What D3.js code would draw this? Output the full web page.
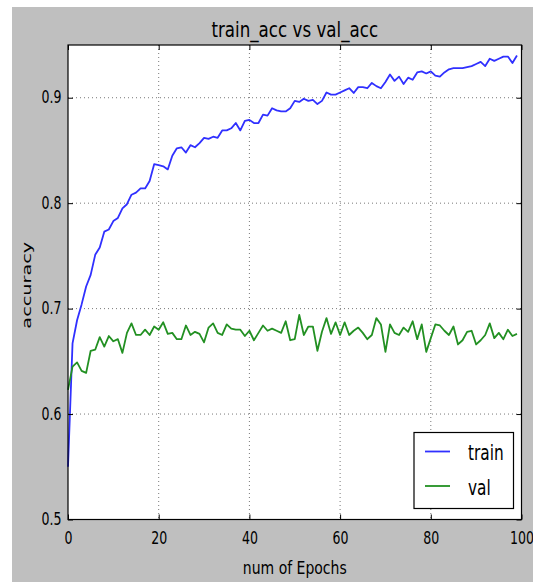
<!DOCTYPE html>
<html>
<head>
<meta charset="utf-8">
<script src="https://cdn.jsdelivr.net/npm/d3@7"></script>
<style>
    body { margin: 0; background: #fff; }
    svg text { font-family: "DejaVu Sans", sans-serif; fill: #000; }
</style>
</head>
<body>
<svg id="chart"></svg>
<script>
const width = 533;
const height = 582;

// epochs 0..99
const epochs = d3.range(0, 100);

const trainAcc = [
    0.550, 0.667, 0.689, 0.704, 0.721, 0.732, 0.751, 0.758, 0.773, 0.775,
    0.783, 0.786, 0.795, 0.799, 0.808, 0.810, 0.814, 0.814, 0.821, 0.837,
    0.836, 0.835, 0.832, 0.845, 0.852, 0.853, 0.848, 0.855, 0.853, 0.857,
    0.862, 0.861, 0.863, 0.862, 0.869, 0.869, 0.871, 0.876, 0.869, 0.878,
    0.879, 0.876, 0.876, 0.884, 0.883, 0.890, 0.888, 0.887, 0.887, 0.890,
    0.897, 0.896, 0.899, 0.897, 0.898, 0.894, 0.897, 0.905, 0.903, 0.903,
    0.905, 0.907, 0.909, 0.9045, 0.910, 0.910, 0.909, 0.914, 0.911, 0.909,
    0.915, 0.922, 0.916, 0.920, 0.913, 0.919, 0.917, 0.924, 0.925, 0.923,
    0.925, 0.921, 0.920, 0.924, 0.927, 0.928, 0.928, 0.928, 0.929, 0.930,
    0.932, 0.934, 0.930, 0.937, 0.935, 0.937, 0.939, 0.939, 0.933, 0.940
];

const valAcc = [
    0.623, 0.645, 0.649, 0.641, 0.639, 0.660, 0.661, 0.673, 0.664, 0.674,
    0.669, 0.671, 0.658, 0.677, 0.686, 0.675, 0.675, 0.680, 0.675, 0.683,
    0.680, 0.687, 0.676, 0.677, 0.671, 0.671, 0.684, 0.675, 0.678, 0.676,
    0.668, 0.682, 0.686, 0.677, 0.675, 0.685, 0.681, 0.680, 0.680, 0.674,
    0.679, 0.670, 0.677, 0.684, 0.679, 0.681, 0.679, 0.677, 0.688, 0.670,
    0.671, 0.694, 0.675, 0.683, 0.683, 0.660, 0.678, 0.691, 0.676, 0.687,
    0.675, 0.687, 0.675, 0.679, 0.682, 0.677, 0.671, 0.675, 0.691, 0.685,
    0.659, 0.685, 0.677, 0.675, 0.682, 0.678, 0.688, 0.671, 0.685, 0.659,
    0.672, 0.685, 0.684, 0.679, 0.675, 0.683, 0.666, 0.670, 0.678, 0.679,
    0.666, 0.670, 0.675, 0.686, 0.672, 0.677, 0.671, 0.680, 0.674, 0.676
];

const xTicks = [0, 20, 40, 60, 80, 100];
const yTicks = [0.5, 0.6, 0.7, 0.8, 0.9];
const seriesNames = ["train", "val"];
const seriesColors = ["#3030ff", "#229022"];

const plot = { left: 68, right: 521.5, top: 45, bottom: 519.5 };
// the source image is squeezed sideways, so text gets squeezed too
const squeeze = 0.74;

const svg = d3.select('#chart').attr('width', width).attr('height', height);

// grey figure background
svg.append('rect')
    .attr('x', 12).attr('y', 7)
    .attr('width', width - 12).attr('height', height - 7)
    .attr('fill', '#bfbfbf');

svg.append('rect')
    .attr('x', plot.left).attr('y', plot.top)
    .attr('width', plot.right - plot.left).attr('height', plot.bottom - plot.top)
    .attr('fill', '#fff');

var xScale = d3.scaleLinear()
    .domain([0, 100])
    .range([plot.left, plot.right]);

var yScale = d3.scaleLinear()
    .domain([0.5, 0.95])
    .range([plot.bottom, plot.top]);

// dotted grid
const grid = svg.append('g').attr('class', 'grid');
grid.selectAll('.vgrid')
    .data(xTicks.slice(1, -1))
    .enter().append('line')
    .attr('x1', d => xScale(d)).attr('x2', d => xScale(d))
    .attr('y1', plot.top).attr('y2', plot.bottom)
    .attr('stroke', '#555').attr('stroke-width', 0.8)
    .attr('stroke-dasharray', '1,3');
grid.selectAll('.hgrid')
    .data(yTicks.slice(1))
    .enter().append('line')
    .attr('x1', plot.left).attr('x2', plot.right)
    .attr('y1', d => yScale(d)).attr('y2', d => yScale(d))
    .attr('stroke', '#555').attr('stroke-width', 0.8)
    .attr('stroke-dasharray', '1,3');

// lines
var line = d3.line()
    .x((d, i) => xScale(epochs[i]))
    .y(d => yScale(d));

[trainAcc, valAcc].forEach((series, k) => {
    svg.append('path')
        .datum(series)
        .attr('fill', 'none')
        .attr('stroke', seriesColors[k])
        .attr('stroke-width', 1.8)
        .attr('stroke-linejoin', 'round')
        .attr('d', line);
});

// axes, ticks pointing inward like classic matplotlib
const gx = svg.append('g')
    .attr('transform', 'translate(0,' + plot.bottom + ')')
    .call(d3.axisBottom(xScale).tickValues(xTicks).tickSize(-5).tickSizeOuter(0).tickPadding(12));
const gy = svg.append('g')
    .attr('transform', 'translate(' + plot.left + ',0)')
    .call(d3.axisLeft(yScale).tickValues(yTicks).tickFormat(d3.format('.1f')).tickSize(-5).tickSizeOuter(0));
svg.append('g')
    .attr('transform', 'translate(0,' + plot.top + ')')
    .call(d3.axisTop(xScale).tickValues(xTicks).tickFormat('').tickSize(-5).tickSizeOuter(0));
svg.append('g')
    .attr('transform', 'translate(' + plot.right + ',0)')
    .call(d3.axisRight(yScale).tickValues(yTicks).tickFormat('').tickSize(-5).tickSizeOuter(0));

svg.selectAll('.domain').remove();
svg.selectAll('.tick line').attr('stroke', '#000').attr('stroke-width', 1);

gx.selectAll('text')
    .attr('font-size', 17)
    .attr('font-family', '"DejaVu Sans", sans-serif')
    .attr('transform', 'scale(' + squeeze + ',1)');
gy.selectAll('text')
    .attr('font-size', 17)
    .attr('font-family', '"DejaVu Sans", sans-serif')
    .attr('x', -6.5 / squeeze)
    .attr('dy', '0.3em')
    .attr('transform', 'scale(' + squeeze + ',1)');

// frame
svg.append('rect')
    .attr('x', plot.left).attr('y', plot.top)
    .attr('width', plot.right - plot.left).attr('height', plot.bottom - plot.top)
    .attr('fill', 'none').attr('stroke', '#000').attr('stroke-width', 1.2);

// title and axis labels
svg.append('text')
    .attr('transform', 'translate(' + ((plot.left + plot.right) / 2) + ',36.7) scale(0.795,1)')
    .attr('text-anchor', 'middle').attr('font-size', 21)
    .text('train_acc vs val_acc');

svg.append('text')
    .attr('transform', 'translate(' + ((plot.left + plot.right) / 2) + ',574) scale(0.8,1)')
    .attr('text-anchor', 'middle').attr('font-size', 17.5)
    .text('num of Epochs');

svg.append('text')
    .attr('transform', 'translate(31,' + ((plot.top + plot.bottom) / 2 + 3) + ') rotate(-90) scale(1.1,0.74)')
    .attr('text-anchor', 'middle').attr('font-size', 17.5)
    .text('accuracy');

// legend
const legend = svg.append('g').attr('transform', 'translate(414,432.5)');
legend.append('rect')
    .attr('width', 99.5).attr('height', 76)
    .attr('fill', '#fff').attr('stroke', '#000').attr('stroke-width', 1.2);

seriesNames.forEach((name, k) => {
    const y = 19 + k * 34.5;
    legend.append('line')
        .attr('x1', 11).attr('x2', 36)
        .attr('y1', y).attr('y2', y)
        .attr('stroke', seriesColors[k]).attr('stroke-width', 1.8);
    legend.append('text')
        .attr('transform', 'translate(54,' + (y + 8.5) + ') scale(0.73,1)')
        .attr('font-size', 21)
        .text(name);
});
</script>
</body>
</html>
